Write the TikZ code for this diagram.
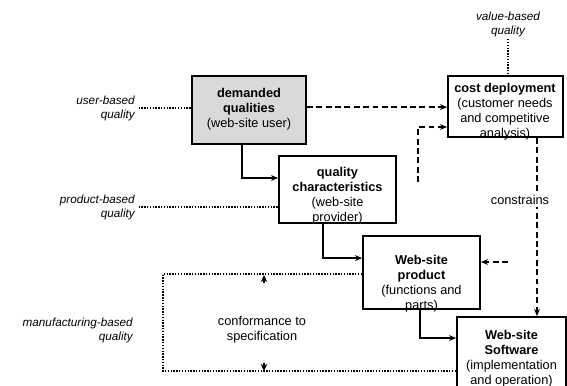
\documentclass[tikz,border=0pt]{standalone}
\usepackage{fontspec}
\setmainfont{Liberation Sans}
\usetikzlibrary{arrows.meta, positioning}

\tikzset{
  box/.style={draw, line width=1.6pt, inner sep=0pt},
  boxtext/.style={align=center, inner sep=0pt},
  side/.style={font=\itshape, align=right, inner sep=0pt},
  tip/.style={-{Stealth[length=6pt,width=5pt]}},
  flow/.style={line width=1.3pt, tip},
  dashline/.style={line width=1.4pt, dash pattern=on 5pt off 3pt},
  dotline/.style={line width=1.4pt, dash pattern=on 1.2pt off 1.2pt},
  conftip/.style={line width=1pt, -{Stealth[length=6pt,width=5.5pt]}},
}

\begin{document}
\begin{tikzpicture}[x=0.03cm, y=-0.03cm, font=\fontsize{10.9}{12.8}\selectfont]
  \clip (0,0) rectangle (567,385);

  % boxes
  \node[box, fill=gray!30, minimum width=3.42cm, minimum height=2.04cm] (demanded) at (249,110) {};
  \node[box, minimum width=3.45cm, minimum height=1.83cm] (cost) at (505.5,106.5) {};
  \node[box, minimum width=3.51cm, minimum height=2.01cm] (qc) at (337.5,189.5) {};
  \node[box, minimum width=3.51cm, minimum height=2.19cm] (product) at (421.5,272.5) {};
  \node[box, minimum width=3.27cm, minimum height=2.4cm] (software) at (511.5,357) {};

  % box texts
  \node[boxtext] (demandedText) at (249,109) {\textbf{demanded}\\\textbf{qualities}\\(web-site user)};
  \node[boxtext] (costText) at (505,112) {\textbf{cost deployment}\\(customer needs\\and competitive\\analysis)};
  \node[boxtext] (qcText) at (337.5,196) {\textbf{quality}\\\textbf{characteristics}\\(web-site\\provider)};
  \node[boxtext] (productText) at (421.5,284) {\textbf{Web-site}\\\textbf{product}\\(functions and\\parts)};
  \node[boxtext] (softwareText) at (511.5,359) {\textbf{Web-site}\\\textbf{Software}\\(implementation\\and operation)};

  % views on quality
  \node[side, anchor=east] (userQ) at (135,108) {user-based\\quality};
  \node[side, anchor=east] (productQ) at (135,207) {product-based\\quality};
  \node[side, anchor=east] (manufQ) at (133,330.5) {manufacturing-based\\quality};
  \node[font=\itshape, align=center, inner sep=0pt] (valueQ) at (508,24) {value-based\\quality};

  \draw[dotline] ([xshift=3pt]userQ.east) -- (userQ.east -| demanded.west);
  \draw[dotline] ([xshift=3pt]productQ.east) -- (productQ.east -| qc.west);
  \draw[dotline] ([yshift=-2pt]valueQ.south) -- (valueQ.south |- cost.north);

  % dashed connectors
  \draw[dashline, tip] ([yshift=2.5pt]demanded.east) -- ([yshift=2.5pt]demanded.east -| cost.west);
  \coordinate (feedBottom) at (418,182);
  \coordinate (feedTop) at (418,127);
  \draw[dashline, tip] (feedBottom) -- (feedTop) -- (feedTop -| cost.west);
  \coordinate (constrX) at (537,0);
  \draw[dashline, tip] (constrX |- cost.south) -- (constrX |- software.north);
  \node[fill=white, inner sep=2pt] (constrains) at (520,200) {constrains};
  \coordinate (prodIn) at (508,262);
  \draw[dashline, tip] (prodIn) -- (prodIn -| product.east);

  % solid flow
  \draw[flow] ([xshift=-6pt]demanded.south) |- ([yshift=9.8pt]qc.west);
  \draw[flow] ([xshift=-12.3pt]qc.south) |- ([yshift=12.3pt]product.west);
  \draw[flow] ([xshift=-1.3pt]product.south) |- ([yshift=16.2pt]software.west);

  % conformance loop
  \coordinate (loopCorner) at (163,371);
  \draw[dotline] ([yshift=-1.3pt]product.west) -| (loopCorner) -- (loopCorner -| software.west);
  \node[align=center, inner sep=0pt] (conf) at (262,330) {conformance to\\specification};
  \coordinate (confTop) at (264,275);
  \coordinate (confBot) at (264,371);
  \draw[conftip] ([yshift=-7pt]confTop) -- (confTop);
  \draw[conftip] ([yshift=7pt]confBot) -- (confBot);
\end{tikzpicture}
\end{document}
